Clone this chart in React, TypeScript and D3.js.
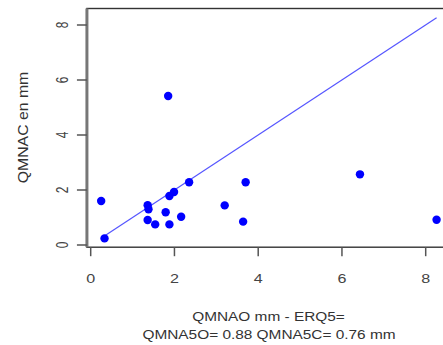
import React from "react";
import * as d3 from "d3";

const obsX = [0.25, 0.33, 1.36, 1.36, 1.38, 1.54, 1.79, 1.88, 1.88, 1.85, 1.99, 2.16, 2.35, 3.2, 3.64, 3.7, 6.43, 8.26];
const calcY = [1.6, 0.24, 0.91, 1.45, 1.3, 0.75, 1.19, 0.75, 1.78, 5.42, 1.93, 1.03, 2.28, 1.44, 0.85, 2.28, 2.57, 0.92];
const xTicks = [0, 2, 4, 6, 8];
const yTicks = [0, 2, 4, 6, 8];
const lineRange = [0.3, 8.26];
const yLabel = "QMNAC en mm";
const xLabel1 = "QMNAO mm - ERQ5=";
const xLabel2 = "QMNA5O= 0.88 QMNA5C= 0.76 mm";

export default function App() {
  const W = 443, H = 345;
  const x = d3.scaleLinear().domain([0, 8]).range([90.7, 425.7]);
  const y = d3.scaleLinear().domain([0, 8]).range([245, 25]);
  const bx0 = x(-0.09), bx1 = x(8.6), by0 = y(8.6), by1 = y(-0.08);
  const pts = obsX.map((v, i) => ({ x: v, y: calcY[i] }));
  const line = d3.line<number>().x((d) => x(d)).y((d) => y(d));
  const font = "Liberation Sans, Arial, sans-serif";
  return (
    <svg width={W} height={H} style={{ position: "absolute", left: 0, top: 0, background: "#fff" }}>
      <rect x={0} y={0} width={W} height={H} fill="#fff" />
      <path d={line(lineRange) || ""} stroke="rgb(85,85,255)" strokeWidth={1.2} fill="none" />
      {pts.map((p, i) => (
        <circle key={i} cx={x(p.x)} cy={y(p.y)} r={4.2} fill="#0000ff" />
      ))}
      <rect x={bx0} y={by0} width={bx1 - bx0} height={by1 - by0} fill="none" stroke="#333" strokeWidth={1.4} />
      <line x1={bx0} x2={bx0} y1={by0} y2={by1} stroke="#777" strokeWidth={3} />
      {xTicks.map((t) => (
        <g key={"x" + t}>
          <line x1={x(t)} x2={x(t)} y1={by1} y2={by1 + 9} stroke="#555" strokeWidth={1.5} />
          <text transform={`translate(${x(t)},282.5) scale(1.15,0.85)`} textAnchor="middle" fontFamily={font} fontSize={14} fill="#444">{t}</text>
        </g>
      ))}
      {yTicks.map((t) => (
        <g key={"y" + t}>
          <line x1={bx0 - 10} x2={bx0} y1={y(t)} y2={y(t)} stroke="#555" strokeWidth={1.5} />
          <text transform={`translate(68,${y(t)}) rotate(-90) scale(0.85,1.15)`} textAnchor="middle" fontFamily={font} fontSize={14} fill="#444">{t}</text>
        </g>
      ))}
      <text transform={`translate(28,127.5) rotate(-90) scale(1.13,1.05)`} textAnchor="middle" fontFamily={font} fontSize={14} fill="#333">{yLabel}</text>
      <text transform={`translate(268.5,321) scale(1.1,0.85)`} textAnchor="middle" fontFamily={font} fontSize={14} fill="#333">{xLabel1}</text>
      <text transform={`translate(269,339) scale(1.1,0.85)`} textAnchor="middle" fontFamily={font} fontSize={14} fill="#333">{xLabel2}</text>
    </svg>
  );
}
